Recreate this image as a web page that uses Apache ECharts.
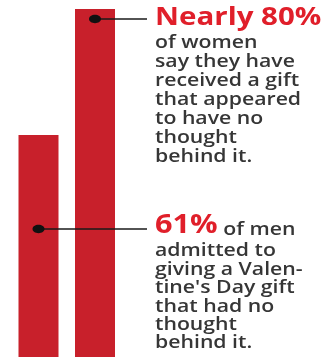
<!DOCTYPE html>
<html>
<head>
<meta charset="utf-8">
<script src="https://cdn.jsdelivr.net/npm/echarts@6/dist/echarts.min.js"></script>
<style>
  html, body { margin: 0; padding: 0; background: #ffffff; }
  #chart { width: 328px; height: 357px; }
</style>
</head>
<body>
<div id="chart"></div>
<script>
// ---- data ----
const categories = ['Men', 'Women'];
const values = [61, 80];
// value on each bar where the callout dot sits
const dotValues = [46.8, 78.5];
const headlines = ['61%', 'Nearly 80%'];
const headTails = [' of men', ''];
const bodies = [
  ['admitted to', 'giving a Valen-', "tine's Day gift", 'that had no', 'thought', 'behind it.'],
  ['of women', 'say they have', 'received a gift', 'that appeared', 'to have no', 'thought', 'behind it.']
];

const BAR = '#c8202b';
const RED = '#e01f2a';
const INK = '#363636';
const FONT = '"Open Sans", "Liberation Sans", sans-serif';
const SX = 1.18;

const chart = echarts.init(document.getElementById('chart'), null, { renderer: 'canvas' });

chart.setOption({
  backgroundColor: '#ffffff',
  animation: false,
  grid: { left: 10.25, width: 113, top: 9, bottom: 0, containLabel: false },
  xAxis: {
    type: 'category',
    data: categories,
    show: false
  },
  yAxis: {
    type: 'value',
    min: 27.5,
    max: 80,
    show: false
  },
  series: [
    {
      type: 'bar',
      z: 2,
      data: values,
      barWidth: 40,
      itemStyle: { color: BAR },
      silent: true
    },
    {
      type: 'custom',
      z: 10,
      clip: false,
      silent: true,
      data: dotValues.map((v, i) => [i, v]),
      encode: { x: 0, y: 1 },
      renderItem: function (params, api) {
        const i = params.dataIndex;
        const p = api.coord([api.value(0), api.value(1)]);
        const textX = 155;
        const headSize = i === 0 ? 26 : 25;
        const headBaselineOffset = i === 0 ? 10 : 11;
        const bodyGap = i === 0 ? 17 : 17;
        return {
          type: 'group',
          children: [
            {
              type: 'line',
              z2: 10,
              shape: { x1: p[0], y1: p[1], x2: 147, y2: p[1] },
              style: { stroke: '#1a1a1a', lineWidth: 1.4 }
            },
            {
              type: 'ellipse',
              z2: 11,
              shape: { cx: p[0], cy: p[1], rx: 6, ry: 4.2 },
              style: { fill: '#111111' }
            },
            {
              type: 'text',
              x: textX,
              y: p[1] + headBaselineOffset,
              scaleX: SX,
              style: {
                x: 0, y: 0,
                text: '{h|' + headlines[i] + '}' + (headTails[i] ? '{t|' + headTails[i] + '}' : ''),
                verticalAlign: 'bottom',
                align: 'left',
                rich: {
                  h: { fontFamily: FONT, fontWeight: 'bold', fontSize: headSize, fill: RED, lineHeight: headSize, verticalAlign: 'bottom' },
                  t: { fontFamily: FONT, fontWeight: 600, fontSize: 18, fill: INK, lineHeight: headSize, verticalAlign: 'bottom' }
                }
              }
            },
            {
              type: 'text',
              x: textX,
              y: p[1] + headBaselineOffset + bodyGap - 14,
              scaleX: SX,
              style: {
                x: 0, y: 0,
                text: bodies[i].join('\n'),
                fontFamily: FONT,
                fontWeight: 600,
                fontSize: 18,
                lineHeight: i === 0 ? 18.4 : 19.1,
                fill: INK,
                align: 'left',
                verticalAlign: 'top'
              }
            }
          ]
        };
      }
    }
  ]
});
</script>
</body>
</html>
